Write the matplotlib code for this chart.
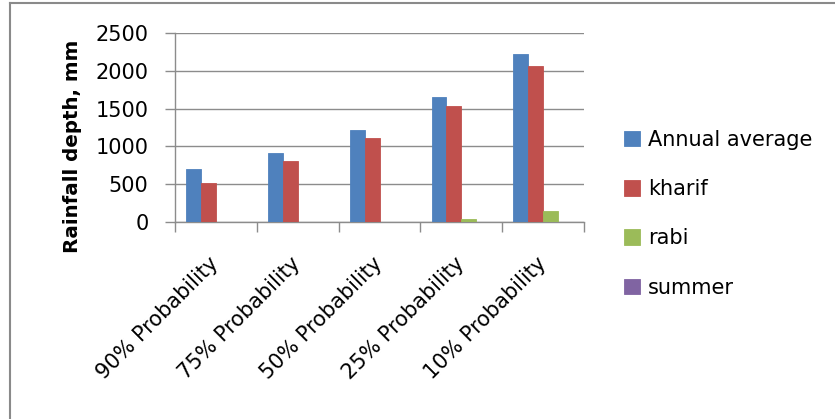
import numpy as np
import matplotlib
matplotlib.use("Agg")
import matplotlib.pyplot as plt
from matplotlib.lines import Line2D

categories = ["90% Probability", "75% Probability", "50% Probability",
              "25% Probability", "10% Probability"]
annual = [695, 908, 1213, 1655, 2220]
kharif = [510, 801, 1111, 1535, 2062]
rabi = [0, 0, 0, 36, 140]
summer = [0, 0, 0, 0, 0]

series = [("Annual average", annual, "#4F81BD"),
          ("kharif", kharif, "#C0504D"),
          ("rabi", rabi, "#9BBB59"),
          ("summer", summer, "#8064A2")]

W, H = 835, 419
fig = plt.figure(figsize=(W / 100, H / 100), dpi=100)
ax = fig.add_axes([175 / W, 1 - 221.7 / H, (584 - 175) / W, (221.7 - 33.3) / H])

x = np.arange(len(categories))
bw = 1 / 5.5
for i, (name, vals, col) in enumerate(series):
    ax.bar(x + (i - 1.5) * bw, vals, bw, color=col, label=name,
           edgecolor=col, linewidth=0.6, zorder=3)

ax.set_xlim(-0.5, len(categories) - 0.5)
ax.set_ylim(0, 2500)
ax.set_yticks(np.arange(0, 2501, 500))
ax.yaxis.grid(True, color="#8c8c8c", linewidth=1.0, zorder=0)
for s in ["top", "right"]:
    ax.spines[s].set_visible(False)
for s in ["left", "bottom"]:
    ax.spines[s].set_color("#8c8c8c")
    ax.spines[s].set_linewidth(1.0)

# category labels at centres, tick marks at boundaries
ax.set_xticks(x)
ax.set_xticklabels(categories, rotation=45, ha="right", va="center",
                   rotation_mode="anchor", fontsize=15)
ax.tick_params(axis="x", which="major", length=0, pad=28)
ax.set_xticks(np.arange(-0.5, len(categories)), minor=True)
ax.tick_params(axis="x", which="minor", length=7, color="#8c8c8c", width=1.0)
ax.tick_params(axis="y", length=7, color="#8c8c8c", width=1.0, pad=12,
               labelsize=15)

fig.text(72 / W, 1 - 146 / H, "Rainfall depth, mm", rotation=90,
         ha="center", va="center", fontsize=14.3, fontweight="bold")

ax.legend(loc="upper left", bbox_to_anchor=(624 / W, 1 - 130 / H),
          bbox_transform=fig.transFigure, frameon=False, fontsize=15,
          borderpad=0, borderaxespad=0, handlelength=0.75, handleheight=0.75,
          handletextpad=0.4, labelspacing=1.4)

# chart area border (left and top edges)
fig.add_artist(Line2D([10 / W, 10 / W], [0, 1 - 3 / H], transform=fig.transFigure,
                      color="#8a8a8a", linewidth=1.5))
fig.add_artist(Line2D([10 / W, 1], [1 - 3 / H, 1 - 3 / H], transform=fig.transFigure,
                      color="#8a8a8a", linewidth=1.5))

fig.savefig("out.png", dpi=100)
